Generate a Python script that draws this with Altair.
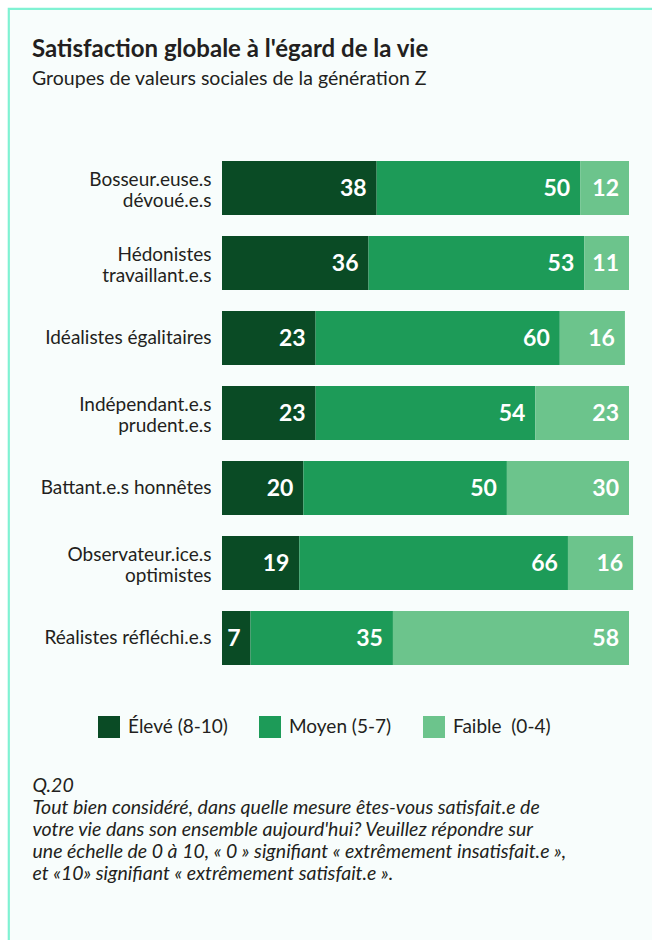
import altair as alt
import pandas as pd

groups = [
    "Bosseur.euse.s|dévoué.e.s",
    "Hédonistes|travaillant.e.s",
    "Idéalistes égalitaires",
    "Indépendant.e.s|prudent.e.s",
    "Battant.e.s honnêtes",
    "Observateur.ice.s|optimistes",
    "Réalistes réfléchi.e.s",
]
levels = ["Élevé (8-10)", "Moyen (5-7)", "Faible\u00a0\u00a0(0-4)"]
eleve = [38, 36, 23, 23, 20, 19, 7]
moyen = [50, 53, 60, 54, 50, 66, 35]
faible = [12, 11, 16, 23, 30, 16, 58]
colors = ["#0a4b25", "#1d9b58", "#6cc48c"]

title_text = "Satisfaction globale à l'égard de la vie"
subtitle_text = "Groupes de valeurs sociales de la génération Z"
footer_lines = [
    "Q.20",
    "Tout bien considéré, dans quelle mesure êtes-vous satisfait.e de",
    "votre vie dans son ensemble aujourd'hui? Veuillez répondre sur",
    "une échelle de 0 à 10, « 0 » signifiant « extrêmement insatisfait.e »,",
    "et «10» signifiant « extrêmement satisfait.e ».",
]

rows = []
for g, a, b, c in zip(groups, eleve, moyen, faible):
    for i, (lvl, v) in enumerate(zip(levels, [a, b, c])):
        rows.append({"group": g, "level": lvl, "value": v, "order": i})
df = pd.DataFrame(rows)

FONT = "Lato"
TXT = "#231f20"
W, H = 407, 525
PL, PT = 222, 150.5
FRAME_X, FRAME_Y = 8.8, 8.8

base = alt.Chart(df).transform_stack(
    stack="value", as_=["x0", "x1"], groupby=["group"],
    sort=[alt.SortField("order", order="ascending")],
)

y_enc = alt.Y(
    "group:N", sort=groups, title=None,
    scale=alt.Scale(paddingInner=0.28, paddingOuter=0.14),
    axis=alt.Axis(
        domain=False, ticks=False, grid=False, zindex=2,
        labelExpr="split(datum.label, '|')",
        labelOffset=alt.ExprRef("indexof(datum.value, '|') >= 0 ? -8 : 0"),
        labelFont=FONT, labelFontSize=19, labelColor=TXT,
        labelLineHeight=21, labelPadding=11, labelLimit=300,
    ),
)

x_scale = alt.Scale(domain=[0, 100], nice=False, zero=True)

bars = base.mark_bar(cornerRadius=0).encode(
    x=alt.X(
        "x0:Q", scale=x_scale,
        axis=alt.Axis(
            labels=False, ticks=False, domain=False, grid=False, zindex=2,
            title=footer_lines, titleX=32 - PL, titleY=776 - (PT + H),
            titleAlign="left", titleAnchor="start", titleAngle=0,
            titleBaseline="top", titleFont=FONT, titleFontSize=19.5,
            titleFontStyle="italic", titleFontWeight="normal",
            titleLineHeight=22, titleColor=TXT,
        ),
    ),
    x2="x1:Q",
    y=y_enc,
    color=alt.Color(
        "level:N", sort=levels,
        scale=alt.Scale(domain=levels, range=colors),
        legend=alt.Legend(
            title=None, orient="none", direction="horizontal",
            legendX=98 - PL, legendY=716 - PT,
            symbolType="square", symbolSize=484, symbolStrokeWidth=0,
            symbolOpacity=1,
            labelFont=FONT, labelFontSize=19, labelColor=TXT,
            labelOffset=8, columnPadding=31, labelLimit=300,
        ),
    ),
    order=alt.Order("order:Q"),
)

labels = base.mark_text(
    align="right", baseline="middle", dx=-10, dy=1,
    font=FONT, fontSize=23, fontWeight="bold", color="white",
).encode(
    x=alt.X("x1:Q", scale=x_scale),
    y=alt.Y("group:N", sort=groups),
    text="value:Q",
)

frame = alt.Chart(alt.Data(values=[{"k": 1}])).mark_rect(
    fill="#f8fdfc", stroke="#80f2d3", strokeWidth=2.2,
).encode(
    x=alt.value(FRAME_X - PL), x2=alt.value(680 - PL),
    y=alt.value(FRAME_Y - PT), y2=alt.value(980 - PT),
)

# title block: bounds top is the frame's top edge (incl. stroke)
bounds_top = FRAME_Y - PT - 1.1
title_bottom = 88 - PT

chart = alt.layer(frame, bars, labels).properties(
    width=W, height=H,
    padding={"left": PL, "top": PT, "right": 652 - PL - W, "bottom": 940 - PT - H},
    autosize=alt.AutoSizeParams(type="none"),
    background="white",
    title=alt.TitleParams(
        text=title_text, subtitle=subtitle_text,
        anchor="start", frame="group", dx=32 - PL, offset=0,
        dy=title_bottom - bounds_top,
        font=FONT, fontSize=24, fontWeight="bold", color=TXT,
        subtitleFont=FONT, subtitleFontSize=19.5, subtitleColor=TXT,
        subtitlePadding=8,
    ),
).configure_view(stroke=None)

chart.save("out.html", embed_options={"renderer": "svg", "actions": False})
